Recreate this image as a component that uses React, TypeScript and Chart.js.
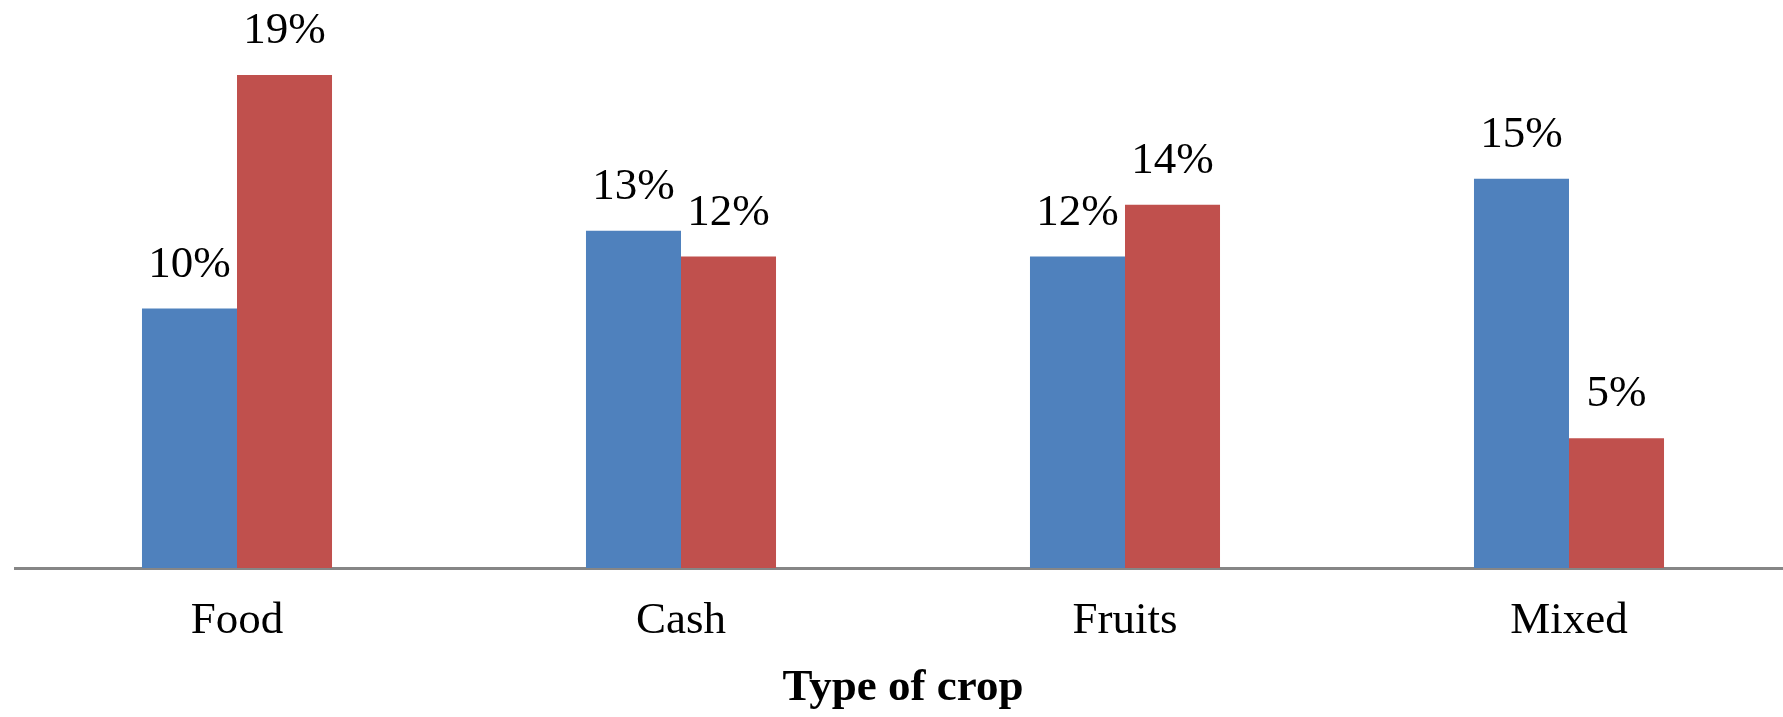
import React, { useEffect, useRef } from "react";
import { Chart, registerables } from "chart.js";

Chart.register(...registerables);

const categories = ["Food", "Cash", "Fruits", "Mixed"];
const seriesA = [10, 13, 12, 15];
const seriesB = [19, 12, 14, 5];
const axisTitle = "Type of crop";

const labelPlugin = {
  id: "barValueLabels",
  afterDatasetsDraw(chart: any) {
    const ctx = chart.ctx;
    ctx.save();
    ctx.fillStyle = "#000";
    ctx.font = '45px "Liberation Serif"';
    ctx.textAlign = "center";
    ctx.textBaseline = "alphabetic";
    chart.data.datasets.forEach((ds: any, i: number) => {
      const meta = chart.getDatasetMeta(i);
      meta.data.forEach((el: any, j: number) => {
        ctx.fillText(`${ds.data[j]}%`, el.x, el.y - 32);
      });
    });
    ctx.restore();
  },
};

export default function App() {
  const ref = useRef<HTMLCanvasElement>(null);
  useEffect(() => {
    document.body.style.margin = "0";
    document.body.style.overflow = "hidden";
    const chart = new Chart(ref.current!, {
      type: "bar",
      data: {
        labels: categories,
        datasets: [
          { label: "A", data: seriesA, backgroundColor: "#4F81BD" },
          { label: "B", data: seriesB, backgroundColor: "#C0504D" },
        ],
      },
      options: {
        responsive: false,
        animation: false,
        devicePixelRatio: 1,
        layout: { padding: { top: 49, left: 15, right: 1, bottom: 0 } },
        datasets: { bar: { categoryPercentage: 0.428, barPercentage: 1 } },
        plugins: { legend: { display: false }, tooltip: { enabled: false } },
        scales: {
          y: { display: false, min: 0, max: 20 },
          x: {
            grid: { display: false, drawTicks: false },
            border: { display: true, color: "#868686", width: 3 },
            ticks: {
              color: "#000",
              font: { family: "Liberation Serif", size: 45 },
              padding: 26,
              maxRotation: 0,
              autoSkip: false,
            },
            title: {
              display: true,
              text: axisTitle,
              color: "#000",
              font: { family: "Liberation Serif", size: 45, weight: "bold" },
              padding: { top: 0, bottom: 2 },
            },
            afterFit: (axis: any) => {
              axis.height = 149;
            },
          },
        },
      },
      plugins: [labelPlugin],
    });
    return () => chart.destroy();
  }, []);
  return (
    <div style={{ width: 1792, height: 717 }}>
      <canvas ref={ref} width={1792} height={717} style={{ display: "block" }} />
    </div>
  );
}
